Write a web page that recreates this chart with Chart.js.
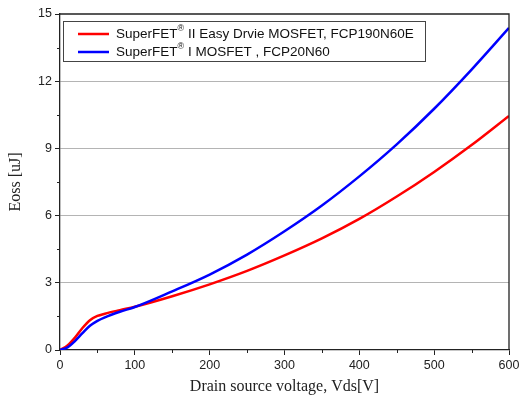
<!DOCTYPE html>
<html>
<head>
<meta charset="utf-8">
<script src="https://cdn.jsdelivr.net/npm/chart.js@4"></script>
<style>
  html, body { margin: 0; padding: 0; background: #fff; }
  #wrap { width: 519px; height: 405px; }
</style>
</head>
<body>
<div id="wrap"><canvas id="graph" width="519" height="405"></canvas></div>
<script>
// drain voltage [V]
var vds = [0, 10, 20, 30, 40, 50, 60, 80, 100, 150, 200, 250, 300, 350, 400, 450, 500, 550, 600];
// Eoss [uJ]
var eossFCP190 = [0, 0.2, 0.55, 0.98, 1.33, 1.52, 1.62, 1.78, 1.93, 2.4, 2.93, 3.53, 4.22, 4.98, 5.85, 6.85, 7.95, 9.15, 10.45];
var eossFCP20 = [0, 0.12, 0.4, 0.75, 1.08, 1.3, 1.46, 1.71, 1.92, 2.62, 3.37, 4.26, 5.3, 6.45, 7.75, 9.18, 10.77, 12.52, 14.38];
var seriesNames = ['SuperFET\u00ae II Easy Drvie MOSFET, FCP190N60E', 'SuperFET\u00ae I MOSFET , FCP20N60'];
var seriesColors = ['#ff0000', '#0000ff'];
var xTicks = [0, 100, 200, 300, 400, 500, 600];
var yTicks = [0, 3, 6, 9, 12, 15];

function pts(ys) {
  return vds.map(function (v, i) { return { x: v, y: ys[i] }; });
}

// frame, minor ticks and boxed legend
var extras = {
  id: 'extras',
  afterDraw: function (chart) {
    var c = chart.ctx, a = chart.chartArea;
    var xs = chart.scales.x, ys = chart.scales.y;
    c.save();
    c.strokeStyle = '#222';
    c.lineWidth = 1.3;
    c.beginPath();
    c.moveTo(a.left, a.top); c.lineTo(a.right, a.top); c.lineTo(a.right, a.bottom);
    c.stroke();
    c.lineWidth = 1;
    c.beginPath();
    for (var i = 0; i < xTicks.length - 1; i++) {
      var px = Math.round(xs.getPixelForValue((xTicks[i] + xTicks[i + 1]) / 2)) + 0.5;
      c.moveTo(px, a.bottom); c.lineTo(px, a.bottom + 3);
    }
    for (var j = 0; j < yTicks.length - 1; j++) {
      var py = Math.round(ys.getPixelForValue((yTicks[j] + yTicks[j + 1]) / 2)) + 0.5;
      c.moveTo(a.left, py); c.lineTo(a.left - 3, py);
    }
    c.stroke();

    // legend box
    var bx = 63, by = 21, bw = 362, bh = 40;
    c.fillStyle = '#fff';
    c.fillRect(bx, by, bw, bh);
    c.strokeStyle = '#444';
    c.lineWidth = 1;
    c.strokeRect(bx + 0.5, by + 0.5, bw, bh);
    var rows = [34, 52];
    c.textBaseline = 'middle';
    c.textAlign = 'left';
    for (var k = 0; k < seriesNames.length; k++) {
      var y = rows[k];
      c.strokeStyle = seriesColors[k];
      c.lineWidth = 2.5;
      c.beginPath(); c.moveTo(78, y); c.lineTo(109, y); c.stroke();
      var parts = seriesNames[k].split('\u00ae');
      var tx = 116;
      c.fillStyle = '#111';
      c.font = '13.5px "Liberation Sans", Arial, sans-serif';
      c.fillText(parts[0], tx, y);
      tx += c.measureText(parts[0]).width;
      c.font = '9px "Liberation Sans", Arial, sans-serif';
      c.fillText('\u00ae', tx, y - 5);
      tx += c.measureText('\u00ae').width;
      c.font = '13.5px "Liberation Sans", Arial, sans-serif';
      c.fillText(parts[1], tx, y);
    }
    c.restore();
  }
};

var ctx = document.getElementById('graph').getContext('2d');
var chart = new Chart(ctx, {
  type: 'line',
  data: {
    datasets: [{
      label: seriesNames[0],
      data: pts(eossFCP190),
      borderColor: seriesColors[0],
      borderWidth: 2.5,
      pointRadius: 0,
      cubicInterpolationMode: 'monotone',
      order: 1
    }, {
      label: seriesNames[1],
      data: pts(eossFCP20),
      borderColor: seriesColors[1],
      borderWidth: 2.5,
      pointRadius: 0,
      cubicInterpolationMode: 'monotone',
      order: 0
    }]
  },
  options: {
    responsive: false,
    animation: false,
    layout: { padding: { top: 14, right: 10, left: 0, bottom: 0 } },
    plugins: { legend: { display: false }, tooltip: { enabled: false } },
    scales: {
      x: {
        type: 'linear',
        min: 0, max: 600,
        afterBuildTicks: function (s) { s.ticks = xTicks.map(function (v) { return { value: v }; }); },
        afterFit: function (s) { s.height = 55; s.paddingLeft = 0; s.paddingRight = 0; },
        ticks: { color: '#222', font: { family: '"Liberation Sans", Arial', size: 12.5 }, padding: 3, maxRotation: 0 },
        grid: { drawOnChartArea: false, tickLength: 5, tickColor: '#222', tickWidth: 1 },
        border: { color: '#222', width: 1.3 },
        title: {
          display: true, text: 'Drain source voltage, Vds[V]', color: '#222',
          font: { family: '"Liberation Serif", "Times New Roman", serif', size: 16 },
          padding: { top: 0, bottom: 9 }
        }
      },
      y: {
        min: 0, max: 15,
        afterBuildTicks: function (s) { s.ticks = yTicks.map(function (v) { return { value: v }; }); },
        afterFit: function (s) { s.width = 60; },
        ticks: { color: '#222', font: { family: '"Liberation Sans", Arial', size: 12.5 }, padding: 3 },
        grid: {
          color: function (c) { return (c.tick && (c.tick.value === 0 || c.tick.value === 15)) ? 'rgba(0,0,0,0)' : '#b4b4b4'; },
          lineWidth: 1, tickLength: 5, tickColor: '#222'
        },
        border: { color: '#222', width: 1.3 },
        title: {
          display: true, text: 'Eoss [uJ]', color: '#222',
          font: { family: '"Liberation Serif", "Times New Roman", serif', size: 16 },
          padding: { top: 6, bottom: 0 }
        }
      }
    }
  },
  plugins: [extras]
});
</script>
</body>
</html>
